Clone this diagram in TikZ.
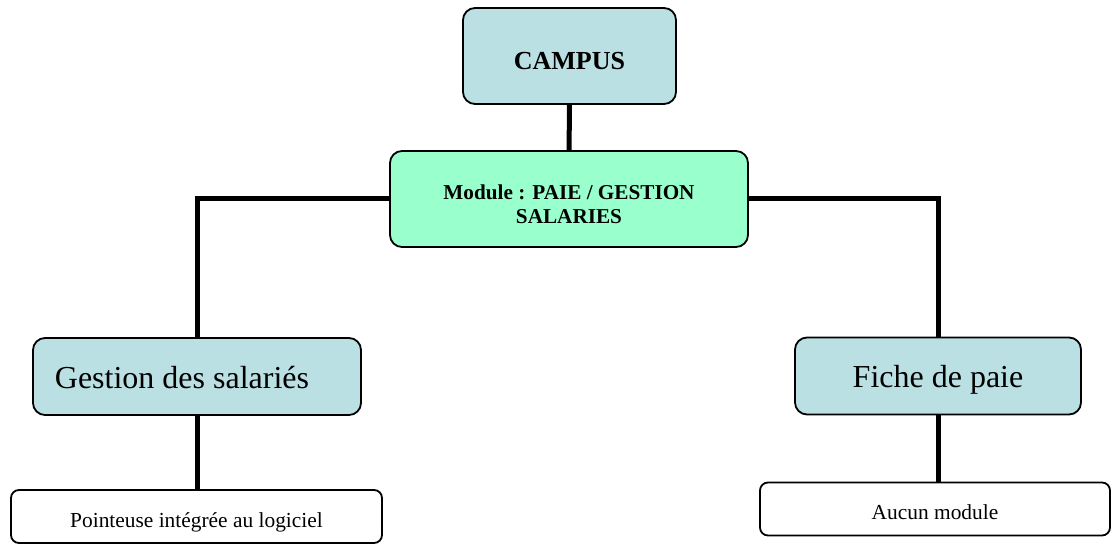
\documentclass[tikz,border=0pt]{standalone}
\usepackage{fontspec}
\setmainfont{Liberation Serif}
\usepackage{xcolor}
\definecolor{CampusBG}{HTML}{BBE0E3}
\definecolor{ModuleBG}{HTML}{99FFCC}
\usepackage{tikz}
\usetikzlibrary{positioning, calc}

\begin{document}
\begin{tikzpicture}[
    x=0.5pt, y=-0.5pt,
    box/.style={draw, line width=0.9pt, rounded corners=6pt, align=center, inner sep=2pt},
    topbox/.style={box, fill=CampusBG, font=\fontsize{13}{15}\selectfont\bfseries, minimum width=106.5pt, minimum height=48pt, text height=14pt, text depth=0pt},
    modbox/.style={box, fill=ModuleBG, font=\fontsize{10.6}{12}\selectfont\bfseries, minimum width=179pt, minimum height=48pt, text height=25pt, text depth=0pt},
    catbox/.style={box, fill=CampusBG, font=\fontsize{16}{18}\selectfont, minimum height=38.5pt, text height=12pt, text depth=0pt},
    leafbox/.style={box, fill=white, rounded corners=4pt, font=\fontsize{10.7}{12}\selectfont, minimum height=26.5pt, text height=10.8pt, text depth=0pt},
    link/.style={line width=2.5pt, black}
]
\useasboundingbox (0,0) rectangle (1112,544);
\node[topbox] (campus) at (569.5,56) {CAMPUS};
\node[modbox] (module) at (569,199) {Module : PAIE / GESTION\\SALARIES};
\node[catbox, minimum width=164pt] (gestion) at (197,376.5) {\hspace*{-15pt}Gestion des salariés};
\node[catbox, minimum width=143pt] (fiche) at (938,376) {Fiche de paie};
\node[leafbox, minimum width=185.5pt] (pointeuse) at (196.5,516.5) {Pointeuse intégrée au logiciel};
\node[leafbox, minimum width=175pt] (aucun) at (935,509) {Aucun module};
% liaisons
\draw[link] (campus) -- (module);
\draw[link] (module.west) -| (gestion.north);
\draw[link] (module.east) -| (fiche.north);
\draw[link] (gestion.south) -- (gestion.south |- pointeuse.north);
\draw[link] (fiche.south) -- (fiche.south |- aucun.north);
\end{tikzpicture}
\end{document}
